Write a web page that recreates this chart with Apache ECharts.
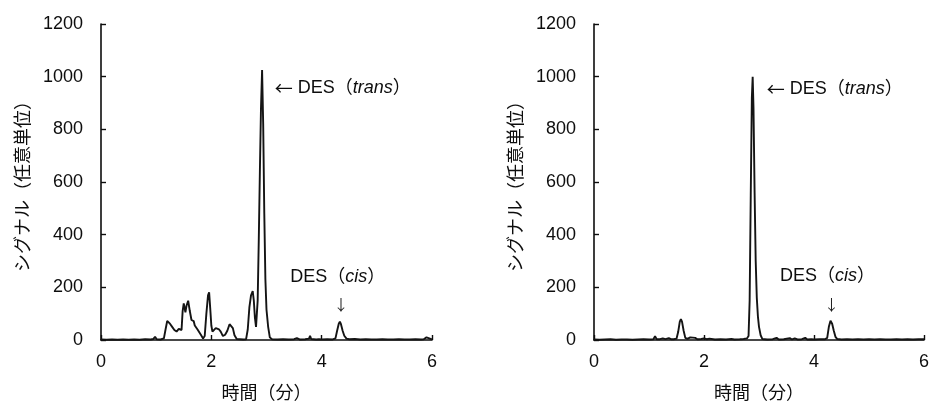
<!DOCTYPE html>
<html>
<head>
<meta charset="utf-8">
<script src="https://cdn.jsdelivr.net/npm/echarts@6/dist/echarts.min.js"></script>
<style>
  html, body { margin: 0; padding: 0; background: #fff; }
  #chart { width: 933px; height: 406px; }
</style>
</head>
<body>
<div id="chart"></div>
<script>
// Chromatogram A (left panel): retention time in minutes, signal in arbitrary units
const timeA = [
  0, 0.1, 0.2, 0.3, 0.4, 0.5, 0.6, 0.7, 0.8, 0.9, 0.95, 0.98, 1.01, 1.08, 1.14, 1.17, 1.20, 1.22,
  1.25, 1.29, 1.33, 1.37, 1.41, 1.44, 1.46, 1.48, 1.50, 1.53, 1.55, 1.58, 1.61, 1.64, 1.66, 1.68,
  1.70, 1.72, 1.75, 1.78, 1.81, 1.85, 1.88, 1.91, 1.94, 1.96, 1.98, 2.00, 2.02, 2.05, 2.08, 2.11,
  2.14, 2.17, 2.21, 2.25, 2.29, 2.33, 2.36, 2.39, 2.42, 2.46, 2.52, 2.58, 2.63, 2.66, 2.69, 2.72,
  2.75, 2.77, 2.79, 2.81, 2.82, 2.84, 2.86, 2.88, 2.90, 2.92, 2.94, 2.96, 2.98, 3.00, 3.03, 3.06,
  3.10, 3.2, 3.3, 3.4, 3.5, 3.55, 3.6, 3.7, 3.77, 3.79, 3.81, 3.9, 3.95, 4.0, 4.1, 4.2, 4.25, 4.28,
  4.31, 4.33, 4.35, 4.38, 4.41, 4.45, 4.5, 4.6, 4.7, 4.8, 4.9, 5.0, 5.1, 5.2, 5.3, 5.4, 5.5, 5.6,
  5.7, 5.8, 5.85, 5.9, 5.93, 6.0
];
const signalA = [
  2, 1, 2, 1, 2, 1, 2, 1, 3, 2, 4, 12, 3, 2, 6, 40, 72, 76,
  62, 50, 38, 32, 42, 45, 38, 110, 139, 105, 130, 149, 110, 76, 70, 72,
  55, 52, 40, 38, 20, 6, 15, 100, 170, 181, 120, 55, 32, 35, 45, 51,
  40, 32, 15, 20, 35, 60, 67, 45, 18, 4, 3, 2, 3, 40, 125, 170,
  186, 150, 85, 50, 44, 150, 380, 640, 880, 1025, 820, 480, 230, 115, 50, 10,
  3, 2, 3, 2, 3, 7, 2, 3, 5, 16, 4, 2, 3, 2, 3, 2, 6, 35,
  62, 70, 60, 35, 16, 5, 3, 4, 2, 3, 2, 2, 3, 2, 2, 3, 2, 2,
  3, 2, 3, 10, 3, 2
];

// Chromatogram B (right panel)
const timeB = [
  0, 0.1, 0.2, 0.3, 0.4, 0.5, 0.6, 0.7, 0.8, 0.9, 1.0, 1.08, 1.11, 1.14, 1.17, 1.2, 1.25, 1.3,
  1.36, 1.4, 1.45, 1.50, 1.53, 1.56, 1.58, 1.60, 1.63, 1.66, 1.7, 1.75, 1.78, 1.84, 1.88, 1.95,
  2.0, 2.05, 2.1, 2.2, 2.3, 2.4, 2.5, 2.55, 2.65, 2.72, 2.78, 2.81, 2.83, 2.85, 2.87, 2.885,
  2.90, 2.92, 2.94, 2.96, 2.98, 3.00, 3.03, 3.06, 3.15, 3.25, 3.32, 3.36, 3.45, 3.56, 3.6, 3.65,
  3.7, 3.78, 3.84, 3.88, 3.95, 4.0, 4.1, 4.2, 4.24, 4.27, 4.30, 4.33, 4.36, 4.39, 4.42, 4.5,
  4.6, 4.7, 4.8, 4.9, 5.0, 5.1, 5.2, 5.3, 5.4, 5.5, 5.6, 5.7, 5.8, 5.9, 6.0
];
const signalB = [
  2, 1, 2, 3, 1, 2, 2, 1, 2, 3, 2, 3, 14, 3, 8, 3, 6, 3,
  7, 3, 3, 5, 30, 70, 79, 70, 35, 8, 4, 10, 4, 8, 3, 4,
  6, 3, 5, 2, 3, 2, 4, 2, 3, 4, 6, 15, 150, 550, 920, 1000,
  880, 560, 300, 160, 90, 50, 18, 4, 2, 3, 8, 2, 3, 7, 2, 6,
  2, 3, 8, 2, 3, 2, 3, 3, 8, 50, 73, 62, 35, 12, 4, 2,
  3, 2, 3, 2, 3, 2, 3, 2, 2, 3, 2, 3, 2, 3, 3
];

// Axis scales and titles
const timeRange = [0, 6];
const timeStep = 2;
const signalRange = [0, 1200];
const signalStep = 200;
const timeTitle = '時間（分）';
const signalTitle = 'シグナル（任意単位）';

const INK = '#0d0d0d';
const FONT = "'Liberation Sans', Arial, 'Noto Sans CJK JP', sans-serif";
const CJK = "'Noto Sans CJK JP', sans-serif";

function pairs(t, s) { return t.map((v, i) => [v, s[i]]); }

function xAxisFor(gridIndex) {
  return {
    type: 'value', gridIndex,
    min: timeRange[0], max: timeRange[1], interval: timeStep,
    axisLine: { show: true, onZero: false, lineStyle: { color: INK, width: 1.6 } },
    axisTick: { show: true, inside: true, length: 5, lineStyle: { color: INK, width: 1.4 } },
    axisLabel: { fontSize: 18, color: INK, margin: 13, fontFamily: FONT, formatter: v => String(v) },
    splitLine: { show: false },
    name: timeTitle, nameLocation: 'middle', nameGap: 43,
    nameTextStyle: { fontSize: 18, color: INK, fontFamily: CJK }
  };
}

function yAxisFor(gridIndex) {
  return {
    type: 'value', gridIndex,
    min: signalRange[0], max: signalRange[1], interval: signalStep,
    axisLine: { show: true, lineStyle: { color: INK, width: 1.6 } },
    axisTick: { show: true, inside: true, length: 5, lineStyle: { color: INK, width: 1.4 } },
    axisLabel: { fontSize: 18, color: INK, margin: 18, fontFamily: FONT, formatter: v => String(v) },
    splitLine: { show: false },
    name: signalTitle, nameLocation: 'middle', nameGap: 70,
    nameTextStyle: { fontSize: 18, color: INK, fontFamily: CJK }
  };
}

const richText = {
  r: { fontSize: 18, color: INK, fontFamily: CJK },
  a: { fontSize: 18, color: INK, fontFamily: FONT },
  i: { fontSize: 18, color: INK, fontFamily: FONT, fontStyle: 'italic' }
};

function note(coord, text) {
  return {
    coord,
    symbol: 'circle', symbolSize: 0,
    label: {
      show: true, position: 'right', distance: 0,
      formatter: text, rich: richText
    }
  };
}

function downArrow(coord) {
  return {
    coord, symbol: 'circle', symbolSize: 0,
    label: {
      show: true, position: 'inside', formatter: '↓',
      fontSize: 15, color: '#222', fontFamily: CJK
    }
  };
}

function trace(gridIndex, data, notes) {
  return {
    type: 'line', xAxisIndex: gridIndex, yAxisIndex: gridIndex,
    data, showSymbol: false, smooth: false,
    lineStyle: { color: '#141414', width: 1.9 },
    markPoint: { silent: true, animation: false, data: notes },
    animation: false
  };
}

const chart = echarts.init(document.getElementById('chart'), null, { renderer: 'canvas' });
chart.setOption({
  backgroundColor: '#ffffff',
  animation: false,
  grid: [
    { left: 101, top: 24, width: 331, height: 316 },
    { left: 594, top: 24, width: 330, height: 316 }
  ],
  xAxis: [xAxisFor(0), xAxisFor(1)],
  yAxis: [yAxisFor(0), yAxisFor(1)],
  series: [
    trace(0, pairs(timeA, signalA), [
      note([3.15, 957], '{r|←}{a| DES（}{i|trans}{a|）}'),
      note([3.43, 239], '{a|DES（}{i|cis}{a|）}'),
      downArrow([4.35, 137])
    ]),
    trace(1, pairs(timeB, signalB), [
      note([3.14, 953], '{r|←}{a| DES（}{i|trans}{a|）}'),
      note([3.38, 242], '{a|DES（}{i|cis}{a|）}'),
      downArrow([4.32, 137])
    ])
  ]
});
</script>
</body>
</html>
